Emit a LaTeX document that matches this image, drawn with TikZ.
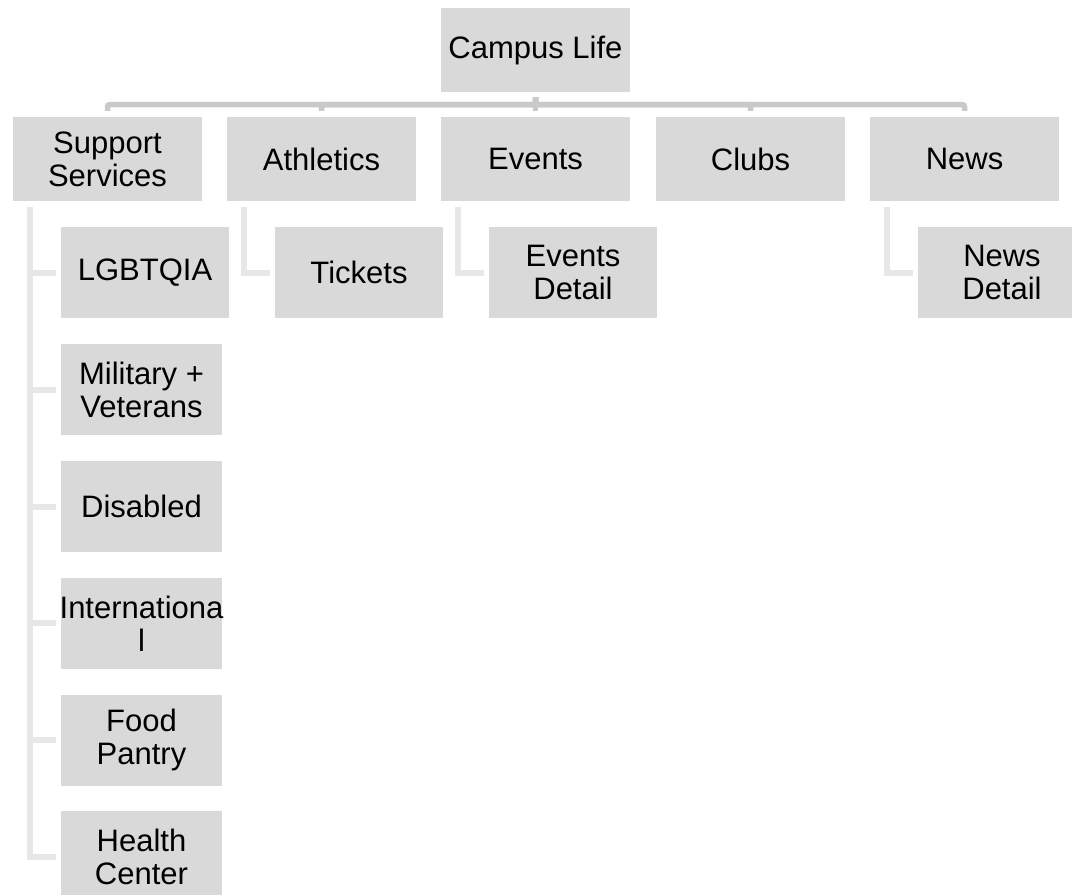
\documentclass[tikz,border=0pt]{standalone}
\usepackage{fontspec}
\setmainfont{Liberation Sans}
\usetikzlibrary{positioning}
\definecolor{boxgray}{HTML}{D9D9D9}
\definecolor{busgray}{HTML}{C9C9C9}
\definecolor{stemgray}{HTML}{E7E7E7}
\tikzstyle{topicbox} = [fill=boxgray, inner sep=0pt, align=center,
minimum width=189pt, minimum height=84pt, font=\fontsize{31}{33}\selectfont]
\tikzstyle{pagebox} = [topicbox, minimum width=161pt, minimum height=91pt]
\tikzstyle{busline} = [draw=busgray, line width=5.5pt, rounded corners=2pt]
\tikzstyle{stemline} = [draw=stemgray, line width=6pt]

\begin{document}
\begin{tikzpicture}[x=1pt,y=-1pt]
  \useasboundingbox (0,0) rectangle (1072,895);
  % home page
  \node[topicbox] (campus) at (535.5,50) {Campus Life};
  % sections
  \node[topicbox] (support) at (107.5,159) {Support\\Services};
  \node[topicbox] (athletics) at (321.5,159) {Athletics};
  \node[topicbox] (events) at (535.5,159) {Events};
  \node[topicbox] (clubs) at (750.5,159) {Clubs};
  \node[topicbox] (news) at (964.5,159) {News};
  % pages under the sections
  \node[pagebox, minimum width=168pt, below right=26pt and 48pt of support.south west] (lgbtqia) {LGBTQIA};
  \node[pagebox, below right=25.4pt and 0pt of lgbtqia.south west] (military) {Military +\\Veterans};
  \node[pagebox, below right=25.4pt and 0pt of military.south west] (disabled) {Disabled};
  \node[pagebox, below right=25.4pt and 0pt of disabled.south west] (intl) {\makebox[161pt]{Internationa}\\l};
  \node[pagebox, below right=25.4pt and 0pt of intl.south west] (pantry) {Food\\Pantry};
  \node[pagebox, below right=25.4pt and 0pt of pantry.south west] (health) {Health\\Center};
  \node[pagebox, minimum width=168pt, below right=26pt and 48pt of athletics.south west] (tickets) {Tickets};
  \node[pagebox, minimum width=168pt, below right=26pt and 48pt of events.south west] (eventdetail) {Events\\Detail};
  \node[pagebox, minimum width=168pt, below right=26pt and 48pt of news.south west] (newsdetail) {News\\Detail};

  % bus from the home page to the sections
  \coordinate (bus) at ([yshift=-12.5pt]campus.south);
  \draw[busline] ([yshift=-5pt]campus.south) |- (bus -| support) -- ([yshift=6pt]support.north);
  \draw[busline] ([yshift=-5pt]campus.south) |- (bus -| athletics) -- ([yshift=6pt]athletics.north);
  \draw[busline] ([yshift=-5pt]campus.south) -- ([yshift=6pt]events.north);
  \draw[busline] ([yshift=-5pt]campus.south) |- (bus -| clubs) -- ([yshift=6pt]clubs.north);
  \draw[busline] ([yshift=-5pt]campus.south) |- (bus -| news) -- ([yshift=6pt]news.north);

  % stems down to the pages
  \draw[stemline] ([xshift=17pt,yshift=-6pt]support.south west) |- ([xshift=-5pt]lgbtqia.west);
  \draw[stemline] ([xshift=17pt,yshift=-6pt]support.south west) |- ([xshift=-5pt]military.west);
  \draw[stemline] ([xshift=17pt,yshift=-6pt]support.south west) |- ([xshift=-5pt]disabled.west);
  \draw[stemline] ([xshift=17pt,yshift=-6pt]support.south west) |- ([xshift=-5pt]intl.west);
  \draw[stemline] ([xshift=17pt,yshift=-6pt]support.south west) |- ([xshift=-5pt]pantry.west);
  \draw[stemline] ([xshift=17pt,yshift=-6pt]support.south west) |- ([xshift=-5pt]health.west);
  \draw[stemline] ([xshift=17pt,yshift=-6pt]athletics.south west) |- ([xshift=-5pt]tickets.west);
  \draw[stemline] ([xshift=17pt,yshift=-6pt]events.south west) |- ([xshift=-5pt]eventdetail.west);
  \draw[stemline] ([xshift=17pt,yshift=-6pt]news.south west) |- ([xshift=-5pt]newsdetail.west);
\end{tikzpicture}
\end{document}
